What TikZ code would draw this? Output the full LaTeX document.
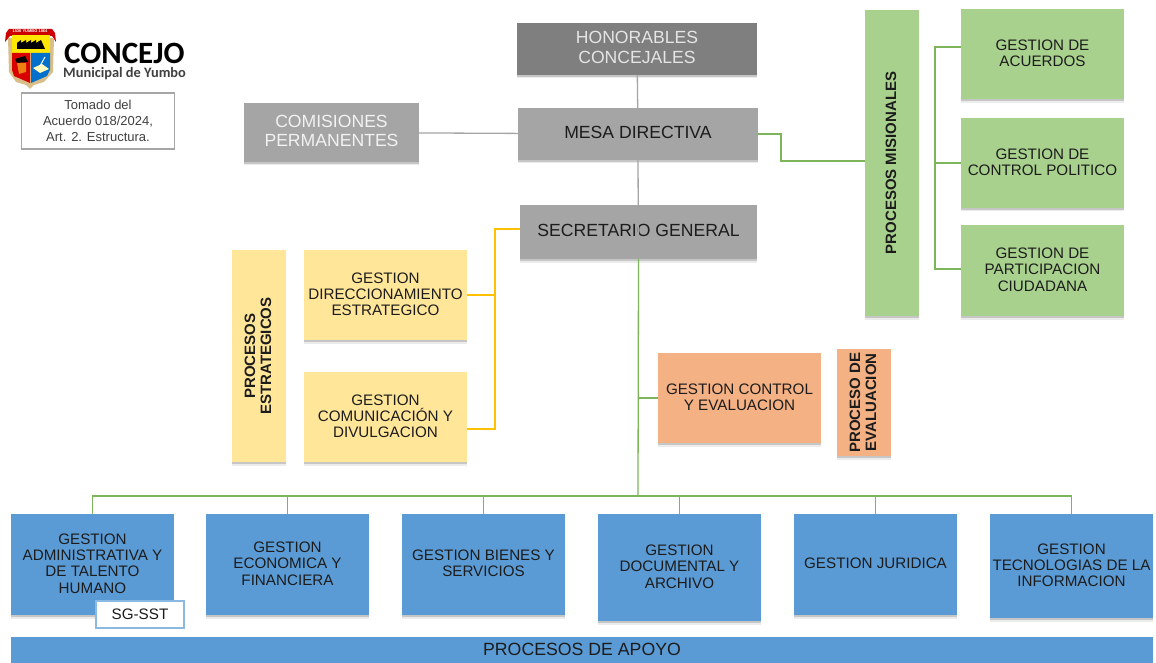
\documentclass[tikz,border=0pt]{standalone}
\usepackage{fontspec}
\setmainfont{Liberation Sans}
\newfontfamily\logofont{Carlito}
\usetikzlibrary{shadows}
\definecolor{grisoscuro}{HTML}{7F7F7F}
\definecolor{gris}{HTML}{A5A5A5}
\definecolor{verde}{HTML}{A9D18E}
\definecolor{verdelinea}{HTML}{7DB65A}
\definecolor{amarillo}{HTML}{FFE699}
\definecolor{amarillolinea}{HTML}{FFC000}
\definecolor{naranja}{HTML}{F4B183}
\definecolor{azul}{HTML}{5B9BD5}
\definecolor{texto}{HTML}{1C1C1C}
\definecolor{dorado}{HTML}{D8BE88}
\tikzset{
		caja/.style={
			align=center, inner sep=0pt, text=texto, text depth=2pt,
			font=\fontsize{15.2}{16.3}\selectfont,
			drop shadow={shadow xshift=0pt, shadow yshift=-3.5pt, opacity=0.15},
			drop shadow={shadow xshift=0pt, shadow yshift=-1.8pt, opacity=0.35}
		},
		directiva/.style={caja, fill=gris, text depth=3pt, minimum width=240pt, minimum height=52pt,
			font=\fontsize{17.6}{19.7}\selectfont},
		misional/.style={caja, fill=verde, minimum width=163pt, minimum height=90pt},
		estrategico/.style={caja, fill=amarillo, minimum width=163pt, minimum height=90pt},
		apoyo/.style={caja, fill=azul, minimum width=163pt, minimum height=101pt},
		vertical/.style={caja, rotate=90, minimum height=54pt, font=\bfseries\fontsize{15}{16}\selectfont},
		lineagris/.style={draw=gris, line width=1.3pt},
		lineaverde/.style={draw=verdelinea, line width=1.3pt},
		lineaamarilla/.style={draw=amarillolinea, line width=1.6pt}
	}

\begin{document}
\begin{tikzpicture}[x=1pt, y=-1pt]
	\useasboundingbox (0,0) rectangle (1156,663);

	% escudo
	\fill[red!80!black] (5,42) -- (6,33) -- (9,29) -- (52,29) -- (55,33) -- (56,42) -- (52,36) -- (10,36) -- cycle;
	\fill[dorado] (8,38) -- (54,38) -- (53,72) -- (44,82) -- (34,85) -- (30,89) -- (26,85) -- (16,82) -- (9,72) -- cycle;
	\fill[yellow!90!orange] (12,35) rectangle (50,53);
	\fill[black] (17,49) -- (17,43) -- (21,40) -- (21,43) -- (26,40) -- (26,43) -- (31,40) -- (31,43) -- (36,40) -- (36,43) -- (41,40) -- (45,49) -- cycle;
	\fill[red!85!black] (12,53) -- (30,53) -- (30,83) -- (14,76) -- (12,70) -- cycle;
	\fill[blue!45!cyan!80!black] (31,53) -- (50,53) -- (50,70) -- (47,76) -- (31,83) -- cycle;
	\fill[black] (15,59) -- (25,56) -- (28,62) -- (17,63) -- cycle;
	\fill[orange!70!brown] (17,63) -- (26,63) -- (26,72) -- (19,74) -- cycle;
	\fill[yellow!25] (33,68) -- (42,64) -- (49,69) -- (40,73) -- cycle;
	\draw[white, line width=1pt] (40,66) -- (45,57);
	\node[inner sep=0pt, white, font=\bfseries\fontsize{4}{4}\selectfont] (lema) at (30,31.5) {1536 YUMBO 1864};
	\node[inner sep=0pt, anchor=south west, text height=21pt, text depth=0pt, font=\logofont\bfseries\fontsize{31}{31}\selectfont] (concejo) at (64,64) {CONCEJO};
	\node[inner sep=0pt, anchor=north west, text height=10pt, text depth=2pt, text=black!75, font=\logofont\bfseries\fontsize{14.4}{14}\selectfont] (municipal) at (63,67) {Municipal de Yumbo};
	\node[draw=black!35, line width=1.2pt, align=center, minimum width=153pt, minimum height=56pt, inner sep=0pt, text=black!75,
		font=\fontsize{13}{15.7}\selectfont] (tomado) at (98,121) {Tomado del\\Acuerdo 018/2024,\\Art. 2. Estructura.};

	% direccion
	\node[directiva, fill=grisoscuro, text=white!90!black] (honorables) at (637,49) {HONORABLES\\CONCEJALES};
	\node[directiva] (mesa) at (638,134) {MESA DIRECTIVA};
	\node[directiva, text=white!95!black, minimum width=175pt, minimum height=59pt] (comisiones) at (331.5,132.5) {COMISIONES\\PERMANENTES};
	\node[directiva, minimum width=237pt, minimum height=54pt] (secretario) at (638.5,232) {SECRETARIO GENERAL};

	% misionales
	\node[vertical, fill=verde, minimum width=306pt] (misionales) at (892,163) {PROCESOS MISIONALES};
	\node[misional] (acuerdos) at (1042.5,54.5) {GESTION DE\\ACUERDOS};
	\node[misional] (control) at (1042.5,163) {GESTION DE\\CONTROL POLITICO};
	\node[misional, minimum height=91pt] (participacion) at (1042.5,270.5) {GESTION DE\\PARTICIPACION\\CIUDADANA};

	% estrategicos
	\node[vertical, fill=amarillo, minimum width=212pt] (estrategicos) at (259,356) {PROCESOS\\ESTRATEGICOS};
	\node[estrategico] (direccionamiento) at (385.5,295) {GESTION\\DIRECCIONAMIENTO\\ESTRATEGICO};
	\node[estrategico] (comunicacion) at (385.5,417) {GESTION\\COMUNICACIÓN Y\\DIVULGACION};

	% evaluacion
	\node[caja, fill=naranja, minimum width=163pt, minimum height=90pt] (controlev) at (739.5,398) {GESTION CONTROL\\Y EVALUACION};
	\node[vertical, fill=naranja, minimum width=107pt] (evaluacion) at (864,402.5) {PROCESO DE\\EVALUACION};

	% apoyo
	\node[apoyo] (admin) at (92.5,564.5) {GESTION\\ADMINISTRATIVA Y\\DE TALENTO\\HUMANO};
	\node[apoyo] (economica) at (287.5,564.5) {GESTION\\ECONOMICA Y\\FINANCIERA};
	\node[apoyo] (bienes) at (483.5,564.5) {GESTION BIENES Y\\SERVICIOS};
	\node[apoyo, minimum height=107pt] (documental) at (679.5,567.5) {GESTION\\DOCUMENTAL Y\\ARCHIVO};
	\node[apoyo] (juridica) at (875.5,564.5) {GESTION JURIDICA};
	\node[apoyo, minimum height=104pt] (tecnologias) at (1071.5,566) {GESTION\\TECNOLOGIAS DE LA\\INFORMACION};
	\node[draw=azul!70, line width=1.2pt, fill=white, inner sep=0pt, minimum width=88pt, minimum height=27pt, text=texto,
		font=\fontsize{15.2}{16}\selectfont] (sgsst) at (140,614.5) {SG-SST};
	\node[caja, fill=azul, minimum width=1142pt, minimum height=27pt, font=\fontsize{17.7}{18}\selectfont] (procesos) at (582,650.5) {PROCESOS DE APOYO};

	% conectores
	\coordinate (barra) at (638,496);
	\coordinate (ramav) at (781,161);
	\coordinate (ramam) at (935,163);
	\coordinate (ramae) at (495,229);
	\draw[lineagris] (honorables) -- (mesa);
	\draw[lineagris] (comisiones) -- (mesa);
	\draw[lineagris] (mesa.south) -- (secretario.south);
	\draw[lineaverde] (mesa.east) -| (ramav) -- (misionales.north |- ramav);
	\draw[lineaverde] (ramam) -- (control.west);
	\draw[lineaverde] (acuerdos.west |- 0,47) -| (ramam);
	\draw[lineaverde] (participacion.west |- 0,269) -| (ramam);
	\draw[lineaamarilla] (secretario.west |- ramae) -| (ramae) |- (comunicacion.east |- 0,429);
	\draw[lineaamarilla] (direccionamiento.east) -| (ramae);
	\draw[lineaverde] (secretario.south) -- (barra);
	\draw[lineaverde] (controlev.west) -| (secretario.south);
	\foreach \caja in {admin,economica,bienes,documental,juridica,tecnologias}
		\draw[lineaverde] (barra) -| (\caja.north);
\end{tikzpicture}
\end{document}
